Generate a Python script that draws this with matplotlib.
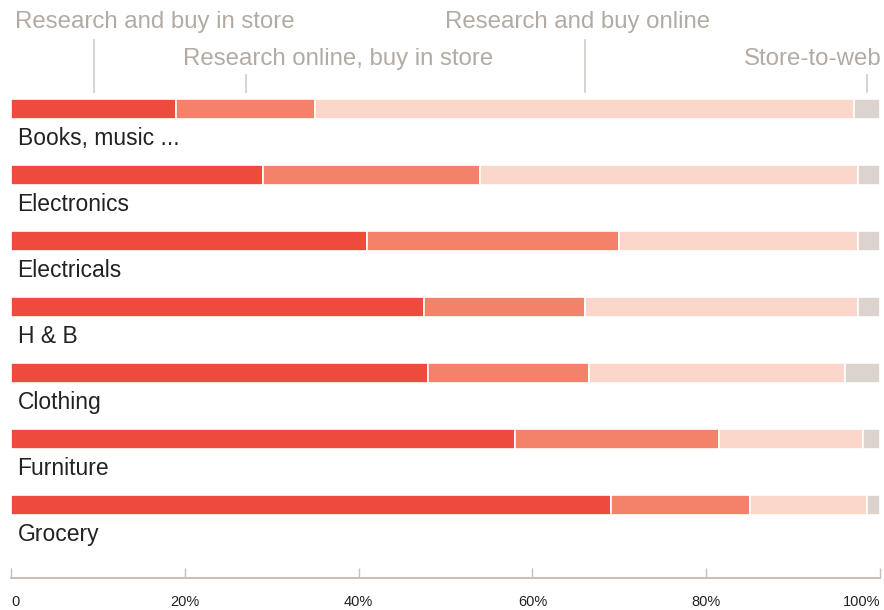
import numpy as np
import matplotlib
matplotlib.use("Agg")
import matplotlib.pyplot as plt

plt.rcParams['font.family'] = ['Liberation Sans', 'DejaVu Sans']

categories = ["Books, music ...", "Electronics", "Electricals", "H & B",
              "Clothing", "Furniture", "Grocery"]
series = ["Research and buy in store", "Research online, buy in store",
          "Research and buy online", "Store-to-web"]
store_store = [19, 29, 41, 47.5, 48, 58, 69]
online_store = [16, 25, 29, 18.5, 18.5, 23.5, 16]
online_online = [62, 43.5, 27.5, 31.5, 29.5, 16.5, 13.5]
store_web = [3, 2.5, 2.5, 2.5, 4, 2, 1.5]
ticks = [0, 20, 40, 60, 80, 100]
tick_labels = ["0", "20%", "40%", "60%", "80%", "100%"]

colors = ["#ee4b3e", "#f4826a", "#fad7ca", "#dcd3ce"]
label_grey = "#b3aaa3"

fig = plt.figure(figsize=(8.84, 6.10), dpi=100)
ax = fig.add_axes([11 / 884, (610 - 578) / 610, 869 / 884, 578 / 610])

y = np.arange(len(categories))
left = np.zeros(len(categories))
for vals, c in zip([store_store, online_store, online_online, store_web], colors):
    ax.barh(y, vals, left=left, height=0.30, color=c, edgecolor="white",
            linewidth=1.2)
    left += np.array(vals)

for i, cat in enumerate(categories):
    ax.text(0.75, i + 0.44, cat, fontsize=16.5, color="#222222",
            va="center", ha="left")

# series labels above the first bar, with leader lines to segment middles
first = [store_store[0], online_store[0], online_online[0], store_web[0]]
mids = np.cumsum(first) - np.array(first) / 2
text_x = [0.5, 19.8, 49.9, 84.3]
rows = [0, 1, 0, 1]
for name, m, tx, r in zip(series, mids, text_x, rows):
    ty = -1.318 if r == 0 else -0.758
    top = -1.045 if r == 0 else -0.515
    ax.text(tx, ty, name, fontsize=17.3, color=label_grey, va="center",
            ha="left", clip_on=False)
    ax.plot([m, m], [top, -0.26], color="#d2cbc6", linewidth=1.2,
            clip_on=False)

ax.set_xlim(0, 100)
ax.set_ylim(7.106, -1.652)

for s in ["top", "left", "right"]:
    ax.spines[s].set_visible(False)
ax.spines["bottom"].set_color("#c8c0b9")
ax.spines["bottom"].set_linewidth(1.5)

ax.set_yticks([])
ax.set_xticks(ticks)
ax.set_xticklabels(tick_labels, fontsize=10.5, color="#222222")
ax.tick_params(axis="x", direction="in", length=7, width=1,
               color="#c8c0b9", pad=12)
lbls = ax.get_xticklabels()
lbls[0].set_ha("left")
lbls[-1].set_ha("right")

fig.savefig("out.png", dpi=100)
